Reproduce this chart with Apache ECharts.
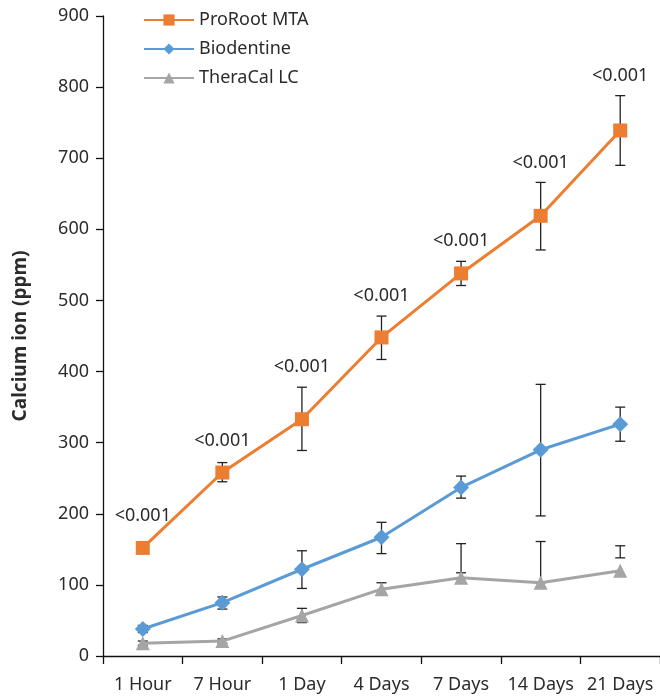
<!DOCTYPE html>
<html>
<head>
<meta charset="utf-8">
<script src="https://cdn.jsdelivr.net/npm/echarts@6/dist/echarts.min.js"></script>
<style>
html, body { margin: 0; padding: 0; background: #fff; }
#main { width: 660px; height: 697px; }
</style>
</head>
<body>
<div id="main"></div>
<script>
var categories = ['1 Hour', '7 Hour', '1 Day', '4 Days', '7 Days', '14 Days', '21 Days'];
var seriesNames = ['ProRoot MTA', 'Biodentine', 'TheraCal LC'];

var mtaValues = [152, 258, 333, 448, 538, 619, 739];
var bioValues = [38, 75, 122, 167, 237, 290, 326];
var theraValues = [18, 21, 57, 94, 110, 103, 120];

// error bars as [low, high]
var mtaErrors = [[147, 158], [245, 272], [289, 378], [417, 478], [521, 555], [571, 666], [690, 788]];
var bioErrors = [[33, 43], [66, 83], [95, 148], [144, 188], [222, 253], [197, 382], [302, 350]];
var theraErrors = [[15, 21], [18, 24], [47, 67], [86, 103], [117, 158], [103, 161], [138, 155]];

var pLabels = ['<0.001', '<0.001', '<0.001', '<0.001', '<0.001', '<0.001', '<0.001'];

var colors = ['#ED7D31', '#5B9BD5', '#A5A5A5'];
var textColor = '#2b2b2b';
var fontFamily = '"Noto Sans", sans-serif';

function errorData(errs) {
	return errs.map(function(e, i) { return [i, e[0], e[1]]; });
}

function renderError(params, api) {
	var x = api.coord([api.value(0), 0])[0];
	var yLow = api.coord([api.value(0), api.value(1)])[1];
	var yHigh = api.coord([api.value(0), api.value(2)])[1];
	var cap = 5;
	var style = { stroke: '#222', lineWidth: 1.3 };
	return {
		type: 'group',
		children: [
			{ type: 'line', shape: { x1: x, y1: yLow, x2: x, y2: yHigh }, style: style },
			{ type: 'line', shape: { x1: x - cap, y1: yLow, x2: x + cap, y2: yLow }, style: style },
			{ type: 'line', shape: { x1: x - cap, y1: yHigh, x2: x + cap, y2: yHigh }, style: style }
		]
	};
}

function errorSeries(errs) {
	return {
		type: 'custom',
		renderItem: renderError,
		data: errorData(errs),
		z: 1,
		silent: true,
		encode: { x: 0, y: [1, 2] }
	};
}

var labelData = mtaValues.map(function(v, i) {
	return [i, v, mtaErrors[i][1], pLabels[i]];
});

var chart = echarts.init(document.getElementById('main'));
chart.setOption({
	animation: false,
	color: colors,
	textStyle: { fontFamily: fontFamily },
	grid: { left: 103, right: -3, top: 16, bottom: 41, containLabel: false },
	legend: {
		orient: 'vertical',
		left: 143,
		top: 11,
		padding: 0,
		itemWidth: 50,
		itemHeight: 14,
		itemGap: 11,
		data: seriesNames,
		textStyle: { color: textColor, fontSize: 18, lineHeight: 18, fontFamily: fontFamily }
	},
	xAxis: {
		type: 'category',
		data: categories,
		boundaryGap: true,
		axisLine: { lineStyle: { color: '#111', width: 1.3 } },
		axisTick: { show: true, interval: 0, length: 8, lineStyle: { color: '#111', width: 1.3 } },
		axisLabel: { interval: 0, color: textColor, fontSize: 18, margin: 20, fontFamily: fontFamily }
	},
	yAxis: {
		type: 'value',
		min: 0,
		max: 900,
		interval: 100,
		name: 'Calcium ion (ppm)',
		nameLocation: 'middle',
		nameGap: 73,
		nameTextStyle: { color: textColor, fontSize: 19, fontWeight: 'bold', fontFamily: fontFamily },
		splitLine: { show: false },
		axisLine: { show: true, lineStyle: { color: '#111', width: 1.3 } },
		axisTick: { show: true, length: 7, lineStyle: { color: '#111', width: 1.3 } },
		axisLabel: { color: textColor, fontSize: 18, margin: 14, fontFamily: fontFamily }
	},
	series: [
		{
			name: seriesNames[0],
			type: 'line',
			data: mtaValues,
			symbol: 'rect',
			symbolSize: 14,
			lineStyle: { width: 3, color: colors[0] },
			itemStyle: { color: colors[0] },
			z: 4
		},
		{
			name: seriesNames[1],
			type: 'line',
			data: bioValues,
			symbol: 'diamond',
			symbolSize: 16,
			lineStyle: { width: 3, color: colors[1] },
			itemStyle: { color: colors[1] },
			z: 3
		},
		{
			name: seriesNames[2],
			type: 'line',
			data: theraValues,
			symbol: 'triangle',
			symbolSize: 14,
			lineStyle: { width: 3, color: colors[2] },
			itemStyle: { color: colors[2] },
			z: 2
		},
		errorSeries(mtaErrors),
		errorSeries(bioErrors),
		errorSeries(theraErrors),
		{
			type: 'custom',
			silent: true,
			z: 5,
			data: labelData,
			encode: { x: 0, y: 1 },
			renderItem: function(params, api) {
				var p = api.coord([api.value(0), api.value(1)]);
				var yTop = api.coord([api.value(0), api.value(2)])[1];
				var y = Math.min(yTop, p[1] - 12) - 20;
				return {
					type: 'text',
					style: {
						x: p[0],
						y: y,
						text: labelData[params.dataIndex][3],
						fill: textColor,
						font: '18px ' + fontFamily,
						textAlign: 'center',
						textVerticalAlign: 'middle'
					}
				};
			}
		}
	]
});
</script>
</body>
</html>
